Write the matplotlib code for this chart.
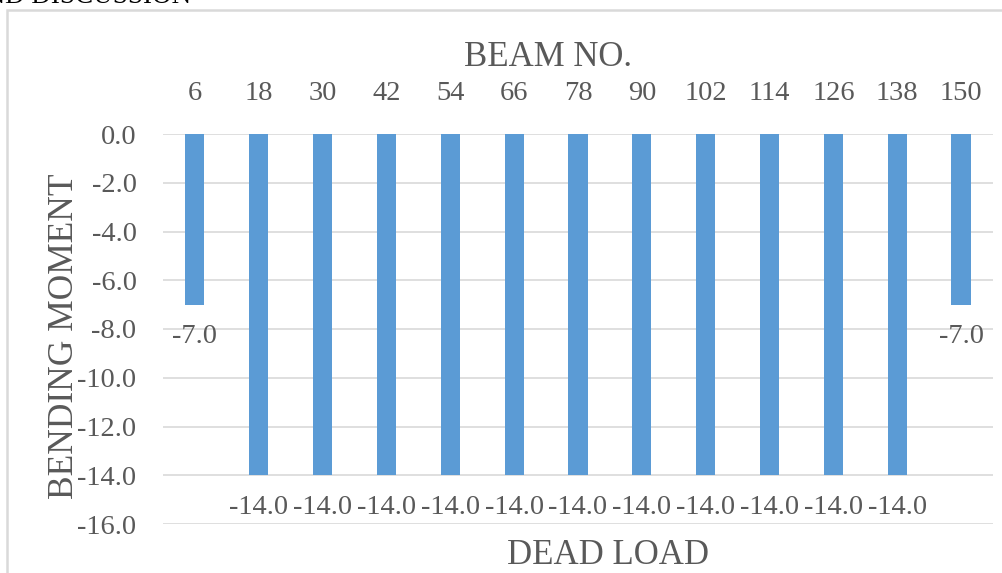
import matplotlib
matplotlib.use("Agg")
import matplotlib.pyplot as plt
from matplotlib.patches import Rectangle

beams = ["6", "18", "30", "42", "54", "66", "78", "90", "102", "114", "126", "138", "150"]
moments = [-7.0, -14.0, -14.0, -14.0, -14.0, -14.0, -14.0, -14.0, -14.0, -14.0, -14.0, -14.0, -7.0]
yticks = [0, -2, -4, -6, -8, -10, -12, -14, -16]

W, H = 1003, 573
DPI = 100
GRAY = "#595959"
plt.rcParams["font.family"] = ["Liberation Serif", "DejaVu Serif"]

fig = plt.figure(figsize=(W / DPI, H / DPI), dpi=DPI)

def fx(px):
    return px / W

def fy(py):
    return 1 - py / H

# chart frame
fig.patches.append(Rectangle((fx(7), fy(600)), fx(1100), fy(10) - fy(600),
                             transform=fig.transFigure, fill=False,
                             edgecolor="#D9D9D9", linewidth=1.8))
# cropped heading from the page above
fig.text(fx(-34), fy(3), "AND DISCUSSION", fontsize=19.5, color="black",
         ha="left", va="baseline")

ax = fig.add_axes([fx(163), fy(524), fx(993) - fx(163), fy(134) - fy(524)])
x = list(range(len(beams)))
ax.bar(x, moments, width=0.30, color="#5B9BD5", zorder=3)
ax.set_xlim(-0.5, len(beams) - 0.5)
ax.set_ylim(-16, 0)
ax.set_yticks(yticks)
ax.set_yticklabels([f"{v:.1f}" for v in yticks])
ax.xaxis.tick_top()
ax.set_xticks(x)
ax.set_xticklabels(beams)
ax.tick_params(axis="x", length=0, pad=20, labelsize=20.5, labelcolor=GRAY)
ax.tick_params(axis="y", length=0, pad=19, labelsize=20.5, labelcolor=GRAY)
ax.grid(axis="y", color="#D9D9D9", linewidth=1.2, zorder=0)
for s in ax.spines.values():
    s.set_visible(False)

for xi, v in zip(x, moments):
    ax.annotate(f"{v:.1f}", (xi, v), xytext=(0, -23), textcoords="offset points",
                ha="center", va="center", fontsize=20.5, color=GRAY)

fig.text(fx(548), fy(57), "BEAM NO.", fontsize=25, color=GRAY, ha="center", va="center")
fig.text(fx(608), fy(556), "DEAD LOAD", fontsize=25, color=GRAY, ha="center", va="center")
fig.text(fx(65), fy(336), "BENDING MOMENT", fontsize=25.5, color=GRAY, ha="center",
         va="center", rotation=90)

fig.savefig("out.png", dpi=DPI)
